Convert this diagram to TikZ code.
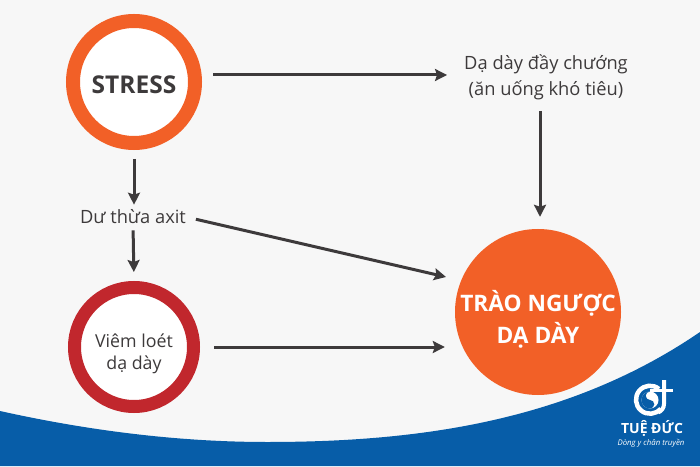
\documentclass[tikz,border=0pt]{standalone}
\usepackage{fontspec}
\setmainfont{Open Sans}
\usetikzlibrary{arrows.meta}
\definecolor{paper}{HTML}{F7F7F7}
\definecolor{ink}{HTML}{3D3A3B}
\definecolor{stressorange}{HTML}{F26027}
\definecolor{ulcerred}{HTML}{C1272D}
\definecolor{bandblue}{HTML}{075DA8}
\tikzset{
  label text/.style={font=\fontsize{18.3}{26}\selectfont, text=ink, align=center, inner sep=0pt},
  flow/.style={draw=ink, line width=3pt, -{Stealth[length=12pt,width=12pt,inset=2pt]}},
}
\begin{document}
\begin{tikzpicture}[x=1pt,y=1pt]

  \useasboundingbox (0,0) rectangle (700,466);

  \fill[paper] (0,0) rectangle (700,466);

  % band at the bottom
  \fill[bandblue] (0,0) -- (0,55) .. controls (90,35) and (180,24) .. (267,24) .. controls (420,24) and (570,45) .. (700,134) -- (700,0) -- cycle;

  \node[circle, draw=stressorange, line width=14pt, fill=white, minimum size=122pt, inner sep=0pt,
        label={[yshift=-2.5pt, inner sep=0pt, font=\fontsize{24.5}{28}\selectfont\bfseries, text=ink]center:STRESS}] (stress) at (134,384) {};

  \node[circle, draw=ulcerred, line width=13pt, fill=white, minimum size=119pt, inner sep=0pt,
        label={[yshift=-7pt, inner sep=0pt, font=\fontsize{17.8}{22}\selectfont, text=ink, align=center]center:Viêm loét\\dạ dày}] (ulcer) at (134,119) {};

  \node[circle, fill=stressorange, minimum size=166pt, inner sep=0pt,
        label={[yshift=-7pt, inner sep=0pt, text=white, align=center, font=\fontsize{22.7}{32}\selectfont\bfseries]center:TRÀO NGƯỢC\\DẠ DÀY}] (reflux) at (538,154) {};

  \node[label text] (bloat) at (546,389) {Dạ dày đầy chướng\\(ăn uống khó tiêu)};

  \node[label text] (acid) at (133,249) {Dư thừa axit};

  \draw[flow, shorten <=11pt, shorten >=17pt] (stress.east |- 0,391) -- (bloat.west |- 0,391);
  \draw[flow, shorten <=9pt, shorten >=5pt] (stress.south) -- (acid.north -| stress.south);
  \draw[flow, shorten <=6pt, shorten >=9pt] (acid.south) -- (ulcer.north);
  \draw[flow, shorten <=11pt, shorten >=12pt] ([xshift=2pt]bloat.south -| reflux.north) -- ([xshift=2pt]reflux.north);
  \draw[flow, shorten <=10pt, shorten >=9pt] (acid.east) -- (reflux.west |- 0,187);
  \draw[flow, shorten <=14pt, shorten >=10pt] (ulcer.east) -- (reflux.west |- ulcer.east);

  % logo
  \draw[white, line width=4.5pt] (659,77) arc [start angle=50, end angle=320, radius=14];
  \fill[white] (650,66) circle (8.5);
  \fill[bandblue] (650,74.5) arc [start angle=90, end angle=270, radius=4.25] arc [start angle=90, end angle=-90, radius=4.25] arc [start angle=270, end angle=90, radius=8.5] -- cycle;
  \draw[white, line width=4pt] (664,86) -- (664,62) arc [start angle=0, end angle=-70, radius=9];
  \draw[white, line width=3pt] (650,76) -- (673,76);
  \node[text=white, font=\fontsize{14}{14}\selectfont\bfseries, inner sep=0pt] (brand) at (652,38) {TUỆ ĐỨC};
  \node[text=white, font=\fontsize{7.8}{8}\selectfont\itshape, inner sep=0pt] (motto) at (651,23) {Dòng y chân truyền};

\end{tikzpicture}
\end{document}
